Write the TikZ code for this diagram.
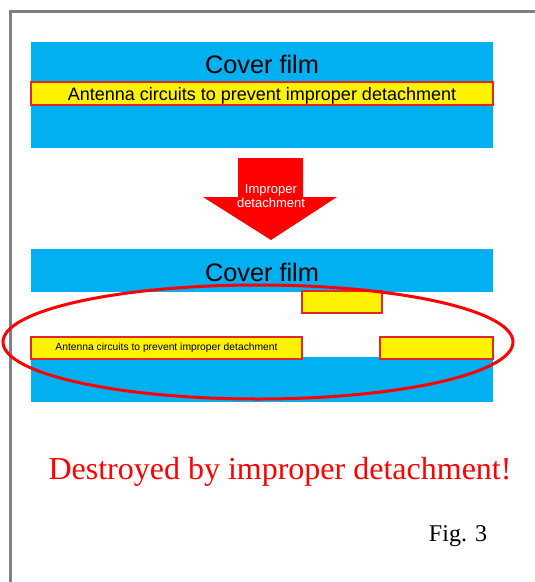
\documentclass[tikz,border=0pt]{standalone}
\usepackage{fontspec}
\setmainfont{Liberation Serif}
\setsansfont{Liberation Sans}
\usetikzlibrary{positioning, shapes.geometric}
\definecolor{filmblue}{RGB}{0,176,240}
\definecolor{stripred}{RGB}{225,40,35}
\definecolor{framegray}{RGB}{128,128,128}
\tikzstyle{film} = [rectangle, anchor=north west, inner sep=0pt, outer sep=0pt, fill=filmblue]
\tikzstyle{antenna} = [rectangle, anchor=north west, inner sep=0pt, outer sep=0pt, fill=yellow, draw=stripred, line width=2.2pt]
\tikzset{
    label text/.style={
        font=\sffamily\fontsize{#1}{#1}\selectfont,
        inner sep=0pt
    },
    serif text/.style={
        font=\rmfamily\fontsize{#1}{#1}\selectfont,
        inner sep=0pt
    }
}

\begin{document}
\begin{tikzpicture}[x=1pt, y=-1pt]
	\useasboundingbox (0,0) rectangle (535,582);
	\fill [white] (0,0) rectangle (535,582);
	% frame
	\draw [framegray, line width=3pt] (10,600) -- (10,11) -- (560,11);
	% before
	\node (filmTop) [film, minimum width=462pt, minimum height=106pt] at (31,42) {};
	\node (stripTop) [antenna, minimum width=462pt, minimum height=23pt] at (31,82) {};
	\node (coverTop) [label text=25.3pt, anchor=base] at (262,73) {Cover film};
	\node (antennaTop) [label text=18pt, anchor=base] at (262,100) {Antenna circuits to prevent improper detachment};
	% arrow
	\fill [red] (238,158) -- (303,158) -- (303,197) -- (337,197) -- (271,240)
		-- (203,197) -- (238,197) -- cycle;
	\node (detach) [label text=13pt, text=white, align=center, font=\sffamily\fontsize{13pt}{14pt}\selectfont] at (271,196) {Improper\\detachment};
	% after
	\node (filmUpper) [film, minimum width=462pt, minimum height=43pt] at (31,249) {};
	\node (filmLower) [film, minimum width=462pt, minimum height=45pt] at (31,357) {};
	\node (coverBottom) [label text=25.3pt, anchor=base] at (262,281) {Cover film};
	\node (pieceUp) [antenna, minimum width=80pt, minimum height=22pt] at (302,291) {};
	\node (pieceLeft) [antenna, minimum width=271pt, minimum height=22pt] at (31,337) {};
	\node (pieceRight) [antenna, minimum width=113pt, minimum height=22pt] at (380,337) {};
	\node (antennaBottom) [label text=10.3pt] at (pieceLeft.center) {Antenna circuits to prevent improper detachment};
	\draw [red, line width=3pt] (258,342) ellipse [x radius=255, y radius=57];
	% captions
	\node (destroyed) [serif text=32pt, text=red, anchor=base] at (280,479) {Destroyed by improper detachment!};
	\node (figNo) [serif text=24pt, anchor=base] at (458,541) {Fig. 3};
\end{tikzpicture}
\end{document}
